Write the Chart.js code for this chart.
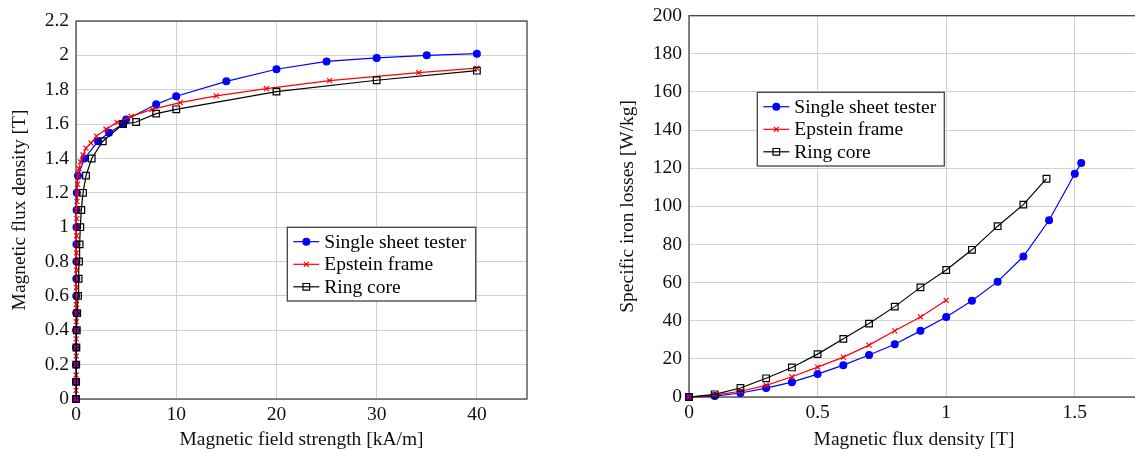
<!DOCTYPE html>
<html>
<head>
<meta charset="utf-8">
<script src="https://cdn.jsdelivr.net/npm/chart.js@4.4.1/dist/chart.umd.min.js"></script>
<style>
  html, body { margin: 0; padding: 0; background: #fff; overflow: hidden; }
  #left { position: absolute; left: 0; top: 0; width: 567px; height: 452px; }
  #right { position: absolute; left: 567px; top: 0; width: 578px; height: 452px; }
</style>
</head>
<body>
<div id="left"><canvas id="bhChart" width="567" height="452"></canvas></div>
<div id="right"><canvas id="lossChart" width="578" height="452"></canvas></div>
<script>
// === DATA: B-H curves (H in kA/m, B in T) === //
const sstH = [0, 0.005, 0.01, 0.01, 0.015, 0.02, 0.025, 0.03, 0.035, 0.04, 0.045, 0.06, 0.08, 0.2, 0.85, 2.2, 3.3, 4.7, 5.0, 8, 10, 15, 20, 25, 30, 35, 40];
const sstB = [0, 0.1, 0.2, 0.3, 0.4, 0.5, 0.6, 0.7, 0.8, 0.9, 1.0, 1.1, 1.2, 1.3, 1.4, 1.5, 1.55, 1.6, 1.626, 1.715, 1.762, 1.849, 1.919, 1.965, 1.985, 2.0, 2.01];

const epsH = [0, 0.005, 0.01, 0.012, 0.015, 0.018, 0.02, 0.022, 0.025, 0.028, 0.03, 0.033, 0.036, 0.04, 0.044, 0.048, 0.052, 0.056, 0.06, 0.065, 0.07, 0.08, 0.09, 0.1, 0.12, 0.15, 0.2, 0.3, 0.45, 0.7, 1.0, 1.5, 2.05, 3.0, 4.1, 5.5, 7.6, 10.4, 14.0, 19.0, 25.3, 34.2, 40];
const epsB = [0, 0.05, 0.1, 0.14, 0.2, 0.25, 0.3, 0.35, 0.4, 0.45, 0.5, 0.55, 0.6, 0.65, 0.7, 0.75, 0.8, 0.85, 0.9, 0.95, 1.0, 1.05, 1.1, 1.15, 1.2, 1.25, 1.3, 1.34, 1.38, 1.42, 1.46, 1.49, 1.53, 1.57, 1.61, 1.645, 1.686, 1.725, 1.764, 1.806, 1.853, 1.899, 1.926];

const ringH = [0, 0.01, 0.02, 0.04, 0.08, 0.12, 0.2, 0.26, 0.3, 0.36, 0.43, 0.53, 0.7, 1.0, 1.57, 2.67, 4.7, 6, 8, 10, 20, 30, 40];
const ringB = [0, 0.1, 0.2, 0.3, 0.4, 0.5, 0.6, 0.7, 0.8, 0.9, 1.0, 1.1, 1.2, 1.3, 1.4, 1.5, 1.6, 1.612, 1.661, 1.686, 1.789, 1.855, 1.911];

// === DATA: iron losses (B in T, P in W/kg) === //
const sstLossB = [0, 0.1, 0.2, 0.3, 0.4, 0.5, 0.6, 0.7, 0.8, 0.9, 1.0, 1.1, 1.2, 1.3, 1.4, 1.5, 1.525];
const sstLossP = [0, 0.5, 2.1, 4.7, 7.8, 12.0, 16.7, 22.0, 27.7, 34.7, 42.0, 50.5, 60.5, 73.7, 92.7, 117.1, 122.7];

const epsLossB = [0, 0.1, 0.2, 0.3, 0.4, 0.5, 0.6, 0.7, 0.8, 0.9, 1.0];
const epsLossP = [0, 1.0, 3.0, 6.1, 10.6, 15.7, 20.9, 27.2, 34.7, 42.0, 50.7];

const ringLossB = [0, 0.1, 0.2, 0.3, 0.4, 0.5, 0.6, 0.7, 0.8, 0.9, 1.0, 1.1, 1.2, 1.3, 1.39];
const ringLossP = [0, 1.4, 4.7, 9.8, 15.5, 22.5, 30.5, 38.5, 47.4, 57.5, 66.6, 77.2, 89.6, 100.9, 114.5];

// === TICKS === //
const bhXTicks = [0, 10, 20, 30, 40];
const bhYTicks = [0, 0.2, 0.4, 0.6, 0.8, 1, 1.2, 1.4, 1.6, 1.8, 2, 2.2];
const lossXTicks = [0, 0.5, 1, 1.5];
const lossYTicks = [0, 20, 40, 60, 80, 100, 120, 140, 160, 180, 200];

const seriesNames = ['Single sheet tester', 'Epstein frame', 'Ring core'];

// === STYLE === //
const FONT = "'Liberation Serif', 'DejaVu Serif', serif";
const FSIZE = 19.5;
const styles = [
  { color: '#0000ff', pointStyle: 'circle', radius: 3.4, fill: '#0000ff', order: 2 },
  { color: '#ff0000', pointStyle: 'crossRot', radius: 3.5, fill: '#ff0000', order: 1 },
  { color: '#000000', pointStyle: 'rect', radius: 4.7, fill: 'rgba(0,0,0,0)', order: 0 }
];

function toPoints(xs, ys) {
  return xs.map((x, i) => ({ x: x, y: ys[i] }));
}

function makeDataset(i, points) {
  const s = styles[i];
  return {
    label: seriesNames[i],
    data: points,
    borderColor: s.color,
    backgroundColor: s.fill,
    borderWidth: 1.2,
    pointStyle: s.pointStyle,
    pointRadius: s.radius,
    pointHoverRadius: s.radius,
    pointBorderColor: s.color,
    pointBackgroundColor: s.fill,
    pointBorderWidth: 1.2,
    tension: 0,
    clip: false,
    order: s.order
  };
}

// draws the framed box round the plot area
const frameBox = {
  id: 'frameBox',
  beforeDatasetsDraw(chart) {
    const { ctx, chartArea: a } = chart;
    ctx.save();
    ctx.strokeStyle = '#444';
    ctx.lineWidth = 1.3;
    ctx.strokeRect(a.left, a.top, a.right - a.left, a.bottom - a.top);
    ctx.restore();
  }
};

// legend box drawn inside the plot, pgfplots style
function drawMarker(ctx, s, x, y) {
  ctx.strokeStyle = s.color;
  ctx.fillStyle = s.fill;
  ctx.lineWidth = 1.2;
  ctx.beginPath();
  if (s.pointStyle === 'circle') {
    ctx.arc(x, y, s.radius, 0, Math.PI * 2);
    ctx.fill();
    ctx.stroke();
  } else if (s.pointStyle === 'crossRot') {
    const d = s.radius * Math.SQRT1_2;
    ctx.moveTo(x - d, y - d); ctx.lineTo(x + d, y + d);
    ctx.moveTo(x - d, y + d); ctx.lineTo(x + d, y - d);
    ctx.stroke();
  } else {
    const d = s.radius * Math.SQRT1_2;
    ctx.rect(x - d, y - d, 2 * d, 2 * d);
    ctx.stroke();
  }
}

const boxLegend = {
  id: 'boxLegend',
  afterDraw(chart, args, opts) {
    const ctx = chart.ctx;
    ctx.save();
    ctx.fillStyle = '#fff';
    ctx.fillRect(opts.x, opts.y, opts.w, opts.h);
    ctx.strokeStyle = '#444';
    ctx.lineWidth = 1.3;
    ctx.strokeRect(opts.x, opts.y, opts.w, opts.h);
    const rows = [14.4, 37, 59.5];
    styles.forEach((s, i) => {
      const y = opts.y + rows[i];
      ctx.strokeStyle = s.color;
      ctx.lineWidth = 1.2;
      ctx.beginPath();
      ctx.moveTo(opts.x + 6, y);
      ctx.lineTo(opts.x + 32, y);
      ctx.stroke();
      drawMarker(ctx, s, opts.x + 19, y);
      ctx.fillStyle = '#000';
      ctx.font = FSIZE + 'px ' + FONT;
      ctx.textBaseline = 'middle';
      ctx.fillText(seriesNames[i], opts.x + 37, y + 1);
    });
    ctx.restore();
  }
};

function axis(opts) {
  return {
    type: 'linear',
    min: opts.min,
    max: opts.max,
    afterBuildTicks: (scale) => { scale.ticks = opts.ticks.map(v => ({ value: v })); },
    afterFit: (scale) => {
      // fixed axis sizes, no extra room for edge labels
      if (opts.width) scale.width = opts.width;
      if (opts.height) scale.height = opts.height;
      scale.paddingLeft = 0;
      scale.paddingRight = 0;
      scale.paddingTop = 0;
      scale.paddingBottom = 0;
    },
    grid: { color: '#d2d2d2', lineWidth: 1, drawTicks: false },
    border: { display: false },
    ticks: {
      color: '#111',
      padding: opts.tickPad,
      font: { family: FONT, size: FSIZE },
      maxRotation: 0,
      autoSkip: false,
      callback: (v) => String(+(+v).toFixed(4))
    },
    title: {
      display: true,
      text: opts.title,
      color: '#111',
      font: { family: FONT, size: FSIZE },
      padding: { top: opts.titlePad, bottom: 0 }
    }
  };
}

function baseOptions(padding, scales, legendBox) {
  return {
    responsive: false,
    animation: false,
    layout: { padding: padding },
    plugins: {
      legend: { display: false },
      tooltip: { enabled: false },
      boxLegend: legendBox
    },
    scales: scales
  };
}

// === CHART 1: B(H) === //
new Chart(document.getElementById('bhChart'), {
  type: 'line',
  data: {
    datasets: [
      makeDataset(0, toPoints(sstH, sstB)),
      makeDataset(1, toPoints(epsH, epsB)),
      makeDataset(2, toPoints(ringH, ringB))
    ]
  },
  options: baseOptions(
    { top: 21, right: 40, left: 0, bottom: 0 },
    {
      x: axis({ min: 0, max: 45, ticks: bhXTicks, height: 53, tickPad: 4, title: 'Magnetic field strength [kA/m]', titlePad: 0 }),
      y: axis({ min: 0, max: 2.2, ticks: bhYTicks, width: 76, tickPad: 7, title: 'Magnetic flux density [T]', titlePad: 8 })
    },
    { x: 287.3, y: 227.3, w: 188.4, h: 73.7 }
  ),
  plugins: [frameBox, boxLegend]
});

// === CHART 2: losses(B) === //
new Chart(document.getElementById('lossChart'), {
  type: 'line',
  data: {
    datasets: [
      makeDataset(0, toPoints(sstLossB, sstLossP)),
      makeDataset(1, toPoints(epsLossB, epsLossP)),
      makeDataset(2, toPoints(ringLossB, ringLossP))
    ]
  },
  options: baseOptions(
    { top: 15.7, right: 2, left: 0, bottom: 0 },
    {
      x: axis({ min: 0, max: 1.75, ticks: lossXTicks, height: 55, tickPad: 4, title: 'Magnetic flux density [T]', titlePad: 1 }),
      y: axis({ min: 0, max: 200, ticks: lossYTicks, width: 122, tickPad: 7, title: 'Specific iron losses [W/kg]', titlePad: 49 })
    },
    { x: 190.3, y: 92.3, w: 187, h: 73.7 }
  ),
  plugins: [frameBox, boxLegend]
});
</script>
</body>
</html>
